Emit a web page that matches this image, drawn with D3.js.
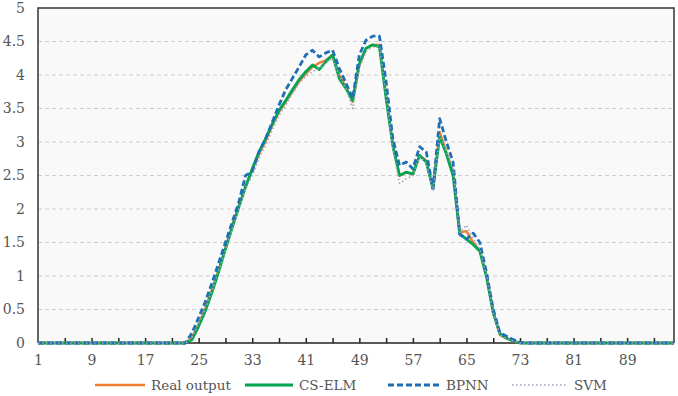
<!DOCTYPE html>
<html>
<head>
<meta charset="utf-8">
<script src="https://cdn.jsdelivr.net/npm/d3@7"></script>
<style>
  html, body { margin: 0; padding: 0; background: #fff; }
  svg { display: block; }
  svg text { font-family: 'DejaVu Serif', 'Liberation Serif', Tinos, 'Times New Roman', serif !important; fill: #555; }
</style>
</head>
<body>
<svg id="chart" width="678" height="396"></svg>
<script>
// ---- data ----
const nPoints = 96;
const xTickLabels = [1, 9, 17, 25, 33, 41, 49, 57, 65, 73, 81, 89];
const yTicks = [0, 0.5, 1, 1.5, 2, 2.5, 3, 3.5, 4, 4.5, 5];
const seriesNames = ["Real output", "CS-ELM", "BPNN", "SVM"];

// values for indices 24..73 (all other indices are 0)
const activeStart = 24;
const realOutput = [0.08,0.28,0.52,0.80,1.10,1.42,1.75,2.05,2.33,2.58,2.82,3.02,3.25,3.45,3.60,3.75,3.90,4.02,4.12,4.18,4.22,4.30,4.00,3.82,3.60,4.15,4.40,4.45,4.45,3.70,2.95,2.50,2.55,2.52,2.80,2.72,2.30,3.15,2.85,2.55,1.65,1.67,1.50,1.38,1.00,0.45,0.12,0.07,0.03,0];
const csElm      = [0.05,0.25,0.48,0.76,1.07,1.40,1.72,2.03,2.33,2.60,2.85,3.05,3.27,3.47,3.62,3.78,3.93,4.05,4.15,4.08,4.20,4.30,3.95,3.80,3.62,4.17,4.40,4.45,4.42,3.65,2.95,2.50,2.55,2.52,2.80,2.70,2.30,3.08,2.82,2.50,1.63,1.55,1.47,1.37,0.98,0.45,0.14,0.07,0.03,0];
const bpnn       = [0.15,0.38,0.62,0.90,1.20,1.50,1.80,2.10,2.50,2.56,2.85,3.05,3.30,3.55,3.78,3.95,4.12,4.30,4.37,4.27,4.33,4.37,4.10,3.88,3.65,4.30,4.52,4.58,4.58,3.90,3.05,2.65,2.70,2.60,2.93,2.85,2.30,3.35,3.00,2.70,1.62,1.55,1.64,1.50,1.05,0.50,0.15,0.10,0.05,0.01];
const svm        = [0.08,0.28,0.50,0.78,1.08,1.38,1.70,2.00,2.30,2.50,2.75,2.95,3.18,3.40,3.55,3.72,3.88,3.98,4.05,4.10,4.18,4.25,3.98,3.80,3.50,4.10,4.35,4.42,4.42,3.70,2.90,2.38,2.45,2.50,2.78,2.68,2.28,3.10,2.85,2.60,1.65,1.76,1.55,1.40,1.00,0.45,0.12,0.07,0.03,0];

function expand(vals) {
  const out = [];
  for (let i = 1; i <= nPoints; i++) {
    const k = i - activeStart;
    out.push({ i: i, v: (k >= 0 && k < vals.length) ? vals[k] : 0 });
  }
  return out;
}

const series = [
  { name: seriesNames[0], data: expand(realOutput), color: "#ED7D31", width: 2.4, dash: null },
  { name: seriesNames[1], data: expand(csElm),      color: "#00A650", width: 2.8, dash: null },
  { name: seriesNames[2], data: expand(bpnn),       color: "#1F6FB5", width: 2.8, dash: "6,3" },
  { name: seriesNames[3], data: expand(svm),        color: "#A8A0B8", width: 1.6, dash: "1.5,2.5" }
];

// ---- layout ----
const svg = d3.select("#chart");
const mLeft = 38, mRight = 674, mTop = 8, mBottom = 343;
const serifFont = "'DejaVu Serif', 'Liberation Serif', Tinos, serif";

const x = d3.scaleLinear().domain([1, nPoints]).range([mLeft, mRight]);
const y = d3.scaleLinear().domain([0, 5]).range([mBottom, mTop]);

// plot background
svg.append("rect")
  .attr("x", mLeft).attr("y", mTop)
  .attr("width", mRight - mLeft).attr("height", mBottom - mTop)
  .attr("fill", "#f9f9f9");

// gridlines
svg.append("g")
  .selectAll("line")
  .data(yTicks.filter(d => d > 0 && d < 5))
  .join("line")
  .attr("x1", mLeft).attr("x2", mRight)
  .attr("y1", d => y(d)).attr("y2", d => y(d))
  .attr("stroke", "#cfcfcf")
  .attr("stroke-width", 1)
  .attr("stroke-dasharray", "4,3");

// frame (left, top, right)
svg.append("path")
  .attr("d", `M${mLeft},${mBottom}V${mTop}H${mRight}V${mBottom}`)
  .attr("fill", "none")
  .attr("stroke", "#333")
  .attr("stroke-width", 1.5);

// y axis labels
const yAxis = d3.axisLeft(y).tickValues(yTicks).tickSize(0).tickPadding(13)
  .tickFormat(d3.format("~g"));
const gy = svg.append("g").attr("transform", `translate(${mLeft},0)`).call(yAxis)
  .attr("font-family", serifFont).attr("font-size", 14);
gy.select(".domain").remove();
gy.selectAll("text").attr("fill", "#555");

// x axis: inside ticks every 4 categories
const tickIdx = d3.range(5, nPoints, 4);
const gx = svg.append("g").attr("transform", `translate(0,${mBottom})`)
  .call(d3.axisTop(x).tickValues(tickIdx).tickSize(5).tickFormat(""));
gx.select(".domain").remove();
gx.selectAll("line").attr("stroke", "#222").attr("stroke-width", 1.5);

const gxl = svg.append("g").attr("transform", `translate(0,${mBottom})`)
  .call(d3.axisBottom(x).tickValues(xTickLabels).tickSize(0).tickPadding(12).tickFormat(d3.format("d")))
  .attr("font-family", serifFont).attr("font-size", 14);
gxl.select(".domain").remove();
gxl.selectAll("text").attr("fill", "#555");

svg.append("line")
  .attr("x1", mLeft).attr("x2", mRight)
  .attr("y1", mBottom).attr("y2", mBottom)
  .attr("stroke", "#222").attr("stroke-width", 1.5);

// lines
const line = d3.line().x(d => x(d.i)).y(d => y(d.v));
svg.append("g").selectAll("path")
  .data(series)
  .join("path")
  .attr("d", d => line(d.data))
  .attr("fill", "none")
  .attr("stroke", d => d.color)
  .attr("stroke-width", d => d.width)
  .attr("stroke-dasharray", d => d.dash)
  .attr("stroke-linejoin", "round");

// legend
const legendItems = [
  { s: series[0], x1: 95, x2: 145 },
  { s: series[1], x1: 245, x2: 293 },
  { s: series[2], x1: 388, x2: 440 },
  { s: series[3], x1: 512, x2: 568 }
];
const lg = svg.append("g").attr("font-family", serifFont).attr("font-size", 13.5);
const ly = 385;
lg.selectAll("line").data(legendItems).join("line")
  .attr("x1", d => d.x1).attr("x2", d => d.x2)
  .attr("y1", ly).attr("y2", ly)
  .attr("stroke", d => d.s.color)
  .attr("stroke-width", d => d.s.width)
  .attr("stroke-dasharray", d => d.s.dash);
lg.selectAll("text").data(legendItems).join("text")
  .attr("x", d => d.x2 + 6).attr("y", ly + 5)
  .attr("fill", "#555")
  .text(d => d.s.name);
</script>
</body>
</html>
